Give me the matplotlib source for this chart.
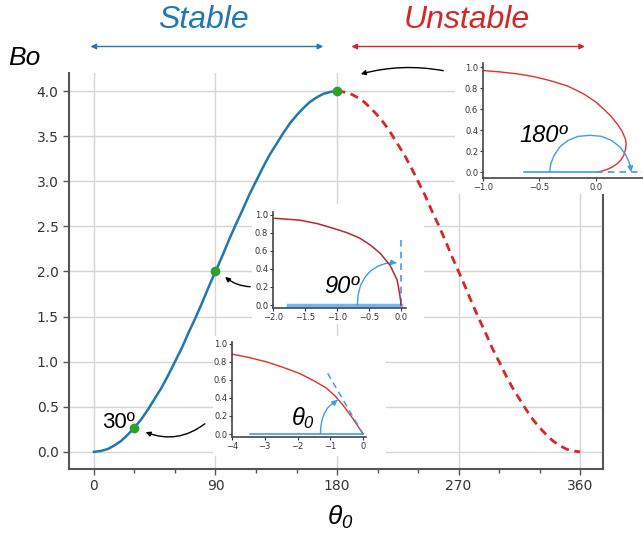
import matplotlib
matplotlib.use("Agg")
import matplotlib.pyplot as plt
from matplotlib.patches import Rectangle, FancyArrowPatch

# all math text here is italic, digits included
plt.rcParams['mathtext.fontset'] = 'custom'
plt.rcParams['mathtext.it'] = 'Liberation Sans:italic'
plt.rcParams['mathtext.rm'] = 'Liberation Sans:italic'
plt.rcParams['mathtext.default'] = 'it'

# main curve
theta_stable = [0, 5, 10, 15, 20, 25, 30, 35, 40, 45, 50, 55, 60, 65, 70, 75, 80, 85, 90,
                95, 100, 105, 110, 115, 120, 125, 130, 135, 140, 145, 150, 155, 160, 165, 170, 175, 180]
bo_stable = [0.0, 0.01, 0.03, 0.07, 0.12, 0.19, 0.27, 0.36, 0.47, 0.59, 0.71, 0.85, 1.0, 1.15, 1.32, 1.48, 1.65, 1.83, 2.0,
             2.17, 2.35, 2.52, 2.68, 2.85, 3.0, 3.15, 3.29, 3.41, 3.53, 3.64, 3.73, 3.81, 3.88, 3.93, 3.97, 3.99, 4.0]
theta_unstable = [180, 185, 190, 195, 200, 205, 210, 215, 220, 225, 230, 235, 240, 245, 250, 255, 260, 265, 270,
                  275, 280, 285, 290, 295, 300, 305, 310, 315, 320, 325, 330, 335, 340, 345, 350, 355, 360]
bo_unstable = [4.0, 3.99, 3.97, 3.93, 3.88, 3.81, 3.73, 3.64, 3.53, 3.41, 3.29, 3.15, 3.0, 2.85, 2.68, 2.52, 2.35, 2.17, 2.0,
               1.83, 1.65, 1.48, 1.32, 1.15, 1.0, 0.85, 0.71, 0.59, 0.47, 0.36, 0.27, 0.19, 0.12, 0.07, 0.03, 0.01, 0.0]
marked_theta = [30, 90, 180]
marked_bo = [0.27, 2.0, 4.0]

# inset 180
r180_x = [-1.0, -0.85, -0.70, -0.55, -0.41, -0.25, -0.11, 0.0, 0.068, 0.13, 0.187, 0.23, 0.26, 0.267, 0.262, 0.246, 0.22, 0.187, 0.14, 0.098, 0.05, 0.009]
r180_y = [0.968, 0.955, 0.937, 0.91, 0.873, 0.82, 0.746, 0.667, 0.60, 0.535, 0.46, 0.39, 0.317, 0.27, 0.22, 0.159, 0.115, 0.079, 0.045, 0.025, 0.008, 0.0]
arc180_x = [-0.41, -0.40, -0.37, -0.32, -0.25, -0.16, -0.05, 0.05, 0.14, 0.21, 0.26, 0.29, 0.305]
arc180_y = [0.0, 0.08, 0.16, 0.24, 0.30, 0.34, 0.35, 0.34, 0.30, 0.24, 0.17, 0.10, 0.05]

# inset 90
r90_x = [-1.97, -1.58, -1.30, -1.06, -0.84, -0.64, -0.47, -0.32, -0.17, -0.06, -0.02, -0.005, 0.0]
r90_y = [0.96, 0.94, 0.90, 0.85, 0.80, 0.74, 0.66, 0.57, 0.44, 0.28, 0.13, 0.05, 0.0]
arc90_x = [-0.68, -0.67, -0.63, -0.56, -0.47, -0.36, -0.24, -0.12]
arc90_y = [0.0, 0.11, 0.22, 0.31, 0.38, 0.43, 0.46, 0.47]

# inset theta0
r30_x = [-4.0, -3.5, -2.95, -2.45, -1.93, -1.5, -1.12, -0.85, -0.61, -0.31, 0.0]
r30_y = [0.885, 0.85, 0.80, 0.74, 0.67, 0.59, 0.51, 0.42, 0.32, 0.17, 0.0]
arc30_x = [-1.30, -1.29, -1.25, -1.18, -1.08, -0.96, -0.84]
arc30_y = [0.0, 0.08, 0.16, 0.23, 0.29, 0.33, 0.36]

W, H = 643, 535
BLUE = '#1f77b4'
RED = '#d62728'
GREEN = '#2ca02c'
LBLUE = '#3d9cf2'
SPINE = '#555555'


def box(x0, y0, x1, y1):
    return [x0 / W, 1 - y1 / H, (x1 - x0) / W, (y1 - y0) / H]


fig = plt.figure(figsize=(W / 100, H / 100), dpi=100)
ax = fig.add_axes(box(69, 73, 603, 469))

ax.plot(theta_stable, bo_stable, color=BLUE, lw=1.8, zorder=3)
ax.plot(theta_unstable, bo_unstable, color=RED, lw=2, ls=(0, (3, 2)), zorder=3)
ax.plot(marked_theta, marked_bo, 'o', color=GREEN, ms=6, zorder=4)

ax.set_xlim(-18.5, 377)
ax.set_ylim(-0.19, 4.2)
ax.set_xticks([0, 90, 180, 270, 360])
ax.set_xticks([30, 60, 120, 150, 210, 240, 300, 330], minor=True)
ax.set_yticks([0, 0.5, 1, 1.5, 2, 2.5, 3, 3.5, 4])
ax.set_yticklabels(['%.1f' % v for v in ax.get_yticks()])
ax.grid(True, color='#d5d5d5', lw=1)
ax.set_axisbelow(True)
ax.spines['top'].set_visible(False)
for s in ['left', 'bottom', 'right']:
    ax.spines[s].set_color(SPINE)
    ax.spines[s].set_linewidth(1.5)
ax.tick_params(labelsize=10, colors=SPINE, labelcolor='#333333', length=4, width=1)
ax.tick_params(which='minor', length=3, width=1, colors=SPINE)

ax.text(18, 0.33, '30º', fontsize=16, family='Liberation Sans', ha='center', va='center')

arr = dict(arrowstyle='-|>', color='black', lw=1, mutation_scale=7)
ax.annotate('', xy=(36.3, 0.23), xytext=(83.7, 0.33), annotation_clip=False,
            arrowprops=dict(arr, connectionstyle='arc3,rad=-0.3'))
ax.annotate('', xy=(95.6, 1.96), xytext=(117.8, 1.83), annotation_clip=False,
            arrowprops=dict(arr, connectionstyle='arc3,rad=-0.2'))
ax.annotate('', xy=(195.6, 4.18), xytext=(260.7, 4.22), annotation_clip=False,
            arrowprops=dict(arr, connectionstyle='arc3,rad=0.12'))

# titles and labels
fig.text(24 / W, 1 - 65 / H, 'Bo', fontsize=19, style='italic', family='Liberation Sans', ha='center', va='baseline')
fig.text(340 / W, 1 - 517 / H, r'$\theta_0$', fontsize=19, ha='center', va='center')
fig.text(203 / W, 1 - 28 / H, 'Stable', fontsize=23, style='italic', family='Liberation Sans', color=BLUE, ha='center', va='baseline')
fig.text(467 / W, 1 - 28 / H, 'Unstable', fontsize=23, style='italic', family='Liberation Sans', color=RED, ha='center', va='baseline')
for x0, x1, c in [(87.7, 326, BLUE), (348.6, 587.7, RED)]:
    fig.add_artist(FancyArrowPatch((x0 / W, 1 - 46.5 / H), (x1 / W, 1 - 46.5 / H),
                   transform=fig.transFigure, arrowstyle='<|-|>', mutation_scale=8, color=c, lw=1))

# white backgrounds behind insets
for x0, y0, x1, y1 in [(455, 56, 643, 194), (252, 204, 424, 324), (213, 336, 386, 456)]:
    fig.add_artist(Rectangle((x0 / W, 1 - y1 / H), (x1 - x0) / W, (y1 - y0) / H,
                             transform=fig.transFigure, facecolor='white', edgecolor='none', zorder=2))


def make_inset(b, xlim, ylim, xticks):
    a = fig.add_axes(box(*b), zorder=3)
    a.set_xlim(*xlim)
    a.set_ylim(*ylim)
    a.set_xticks(xticks)
    a.set_yticks([0, 0.2, 0.4, 0.6, 0.8, 1.0])
    for s in ['top', 'right']:
        a.spines[s].set_visible(False)
    for s in ['left', 'bottom']:
        a.spines[s].set_color('#444444')
        a.spines[s].set_linewidth(1.2)
    a.tick_params(labelsize=6, length=2, width=0.8, pad=1.5, colors='#333333')
    return a


a1 = make_inset((483, 63, 643, 178), (-1.0, 0.416), (-0.057, 1.04), [-1.0, -0.5, 0.0])
a1.plot(r180_x, r180_y, color='#e0302b', lw=1)
a1.plot([-0.64, 0.0], [0, 0], color=LBLUE, lw=1.2)
a1.plot([0.0, 0.42], [0, 0], color=LBLUE, lw=1.2, ls=(0, (4, 3)), clip_on=False)
a1.plot(arc180_x, arc180_y, color=LBLUE, lw=1)
a1.annotate('', xy=(0.31, 0.0), xytext=(arc180_x[-1], arc180_y[-1]),
            arrowprops=dict(arrowstyle='-|>', color=LBLUE, lw=1, mutation_scale=8))
a1.text(-0.465, 0.35, '180º', fontsize=17, style='italic', family='Liberation Sans', ha='center', va='center')

a2 = make_inset((273, 212, 406, 308), (-2.0, 0.08), (-0.033, 1.03), [-2.0, -1.5, -1.0, -0.5, 0.0])
a2.plot(r90_x, r90_y, color='#b8272f', lw=1.1, zorder=3)
a2.plot([-1.76, 0.0], [0, 0], color='#6db5f7', lw=2.5)
a2.plot([0, 0], [0, 0.72], color=LBLUE, lw=1.2, ls=(0, (4, 3)))
a2.plot(arc90_x, arc90_y, color=LBLUE, lw=1)
a2.annotate('', xy=(-0.02, 0.465), xytext=(arc90_x[-1], arc90_y[-1]),
            arrowprops=dict(arrowstyle='-|>', color=LBLUE, lw=1, mutation_scale=8))
a2.text(-0.93, 0.21, '90º', fontsize=17, style='italic', family='Liberation Sans', ha='center', va='center')

a3 = make_inset((232, 342, 366, 437), (-4.0, 0.09), (-0.033, 1.02), [-4, -3, -2, -1, 0])
a3.plot(r30_x, r30_y, color='#e0302b', lw=1)
a3.plot([-3.46, 0.0], [0, 0], color=LBLUE, lw=1.2)
a3.plot([0, -1.14], [0, 0.71], color=LBLUE, lw=1.1, ls=(0, (4, 3)))
a3.plot(arc30_x, arc30_y, color=LBLUE, lw=1)
a3.annotate('', xy=(-0.71, 0.40), xytext=(arc30_x[-1], arc30_y[-1]),
            arrowprops=dict(arrowstyle='-|>', color=LBLUE, lw=1, mutation_scale=8))
a3.text(-1.83, 0.18, r'$\theta_0$', fontsize=17, ha='center', va='center')

fig.savefig('out.png', dpi=100)
